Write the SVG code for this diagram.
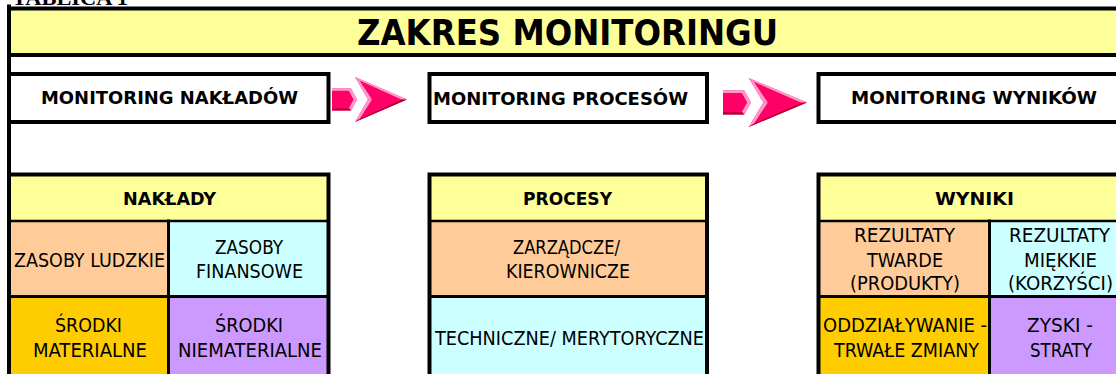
<svg xmlns="http://www.w3.org/2000/svg" width="1116" height="374" viewBox="0 0 1116 374">
<style>
.t{font-family:"DejaVu Sans Condensed","DejaVu Sans",sans-serif;font-stretch:condensed;fill:#000;text-anchor:middle}
.b{font-weight:bold;font-size:17.5px}
.r{font-size:19.5px}
.ln{stroke:#000;fill:none;stroke-linecap:square}
.th{stroke-width:4}
.md{stroke-width:3}
.tn{stroke-width:2.5}
.yel{fill:#FFFF99}.pch{fill:#FFCC99}.cyn{fill:#CCFFFF}.gld{fill:#FFCC00}.lav{fill:#CC99FF}
.ap{fill:#FF0066}.al{fill:#FF99CC}.ad{fill:#B00030}
</style>
<defs>
<g id="arrow">
<polygon class="ap" points="0,-11 19,-11 25,0 19,11 0,11"/>
<polygon class="al" points="0,-11 19,-11 17.5,-8.8 0,-8.8"/>
<polygon class="al" points="19,-11 25,0 19,11 16.8,8.8 21.6,0 16.8,-8.8"/>
<polygon class="ad" points="0,11 19,11 17.4,9 0,9"/>
<polygon class="ap" points="23,-22.5 75,0 23,22.5 36,0"/>
<polygon class="al" points="23,-22.5 75,0 69,-0.3 27.5,-19"/>
<polygon class="al" points="23,-22.5 27.5,-19 40,0 36,0"/>
<polygon class="al" points="36,0 40,0 27.5,19.5 23,22.5"/>
<polygon class="ad" points="23,22.5 75,0 69,0.6 27.5,19.5"/>
</g>
</defs>
<rect x="0" y="0" width="1116" height="374" fill="#fff"/>
<text x="12" y="5" font-family="'Liberation Serif',serif" font-weight="bold" font-size="22" textLength="116" lengthAdjust="spacingAndGlyphs">TABLICA 1</text>

<g id="title">
<rect x="9" y="8.5" width="1115" height="46.5" class="yel"/>
<line class="ln th" x1="9" y1="8.5" x2="1120" y2="8.5"/>
<line class="ln th" x1="9" y1="55" x2="1120" y2="55"/>
<text class="t" x="567.5" y="45" font-weight="bold" font-size="35" textLength="421" lengthAdjust="spacingAndGlyphs">ZAKRES MONITORINGU</text>
</g>

<g id="monitoring-nakladow">
<path class="ln th" d="M9,74 H328.5 V122 H9"/>
<text class="t b" x="169.5" y="104" textLength="257" lengthAdjust="spacingAndGlyphs">MONITORING NAKŁADÓW</text>
</g>

<g id="monitoring-procesow">
<rect class="ln th" x="429.5" y="74" width="277.5" height="48"/>
<text class="t b" x="560.5" y="104.5" textLength="255" lengthAdjust="spacingAndGlyphs">MONITORING PROCESÓW</text>
</g>

<g id="monitoring-wynikow">
<path class="ln th" d="M1122,74 H818.5 V122 H1122"/>
<text class="t b" x="974" y="104" textLength="246" lengthAdjust="spacingAndGlyphs">MONITORING WYNIKÓW</text>
</g>

<g id="connectors">
<use href="#arrow" transform="translate(332,99.5)"/>
<use href="#arrow" transform="translate(723,102.5) scale(1.12,1.09)"/>
</g>

<g id="naklady">
<rect x="9" y="174.5" width="319.5" height="46.5" class="yel"/>
<rect x="9" y="221" width="159.5" height="75.5" class="pch"/>
<rect x="168.5" y="221" width="160" height="75.5" class="cyn"/>
<rect x="9" y="296.5" width="159.5" height="80" class="gld"/>
<rect x="168.5" y="296.5" width="160" height="80" class="lav"/>
<line class="ln tn" x1="9" y1="221" x2="328.5" y2="221"/>
<line class="ln md" x1="9" y1="296.5" x2="328.5" y2="296.5"/>
<line class="ln md" x1="168.5" y1="221" x2="168.5" y2="376"/>
<path class="ln th" d="M9,174.5 H328.5 V376"/>
<text class="t b" x="169.5" y="205" textLength="93" lengthAdjust="spacingAndGlyphs">NAKŁADY</text>
<text class="t r" x="89.5" y="267" textLength="151" lengthAdjust="spacingAndGlyphs">ZASOBY LUDZKIE</text>
<text class="t r" x="249" y="254" textLength="68" lengthAdjust="spacingAndGlyphs">ZASOBY</text>
<text class="t r" x="249.5" y="278" textLength="107" lengthAdjust="spacingAndGlyphs">FINANSOWE</text>
<text class="t r" x="88.5" y="332" textLength="67" lengthAdjust="spacingAndGlyphs">ŚRODKI</text>
<text class="t r" x="90" y="357" textLength="114" lengthAdjust="spacingAndGlyphs">MATERIALNE</text>
<text class="t r" x="249" y="332" textLength="68" lengthAdjust="spacingAndGlyphs">ŚRODKI</text>
<text class="t r" x="250" y="357" textLength="144" lengthAdjust="spacingAndGlyphs">NIEMATERIALNE</text>
</g>

<g id="procesy">
<rect x="429.5" y="174.5" width="277.5" height="46.5" class="yel"/>
<rect x="429.5" y="221" width="277.5" height="75.5" class="pch"/>
<rect x="429.5" y="296.5" width="277.5" height="80" class="cyn"/>
<line class="ln tn" x1="429.5" y1="221" x2="707" y2="221"/>
<line class="ln md" x1="429.5" y1="296.5" x2="707" y2="296.5"/>
<path class="ln th" d="M429.5,376 V174.5 H707 V376"/>
<text class="t b" x="567.5" y="205" textLength="89" lengthAdjust="spacingAndGlyphs">PROCESY</text>
<text class="t r" x="566.5" y="254" textLength="107" lengthAdjust="spacingAndGlyphs">ZARZĄDCZE/</text>
<text class="t r" x="568" y="278" textLength="124" lengthAdjust="spacingAndGlyphs">KIEROWNICZE</text>
<text class="t r" x="569.5" y="345" textLength="269" lengthAdjust="spacingAndGlyphs">TECHNICZNE/ MERYTORYCZNE</text>
</g>

<g id="wyniki">
<rect x="818.5" y="174.5" width="300" height="46.5" class="yel"/>
<rect x="818.5" y="221" width="171" height="75.5" class="pch"/>
<rect x="989.5" y="221" width="130" height="75.5" class="cyn"/>
<rect x="818.5" y="296.5" width="171" height="80" class="gld"/>
<rect x="989.5" y="296.5" width="130" height="80" class="lav"/>
<line class="ln tn" x1="818.5" y1="221" x2="1120" y2="221"/>
<line class="ln md" x1="818.5" y1="296.5" x2="1120" y2="296.5"/>
<line class="ln md" x1="989.5" y1="221" x2="989.5" y2="376"/>
<path class="ln th" d="M818.5,376 V174.5 H1122"/>
<text class="t b" x="974.5" y="205" textLength="79" lengthAdjust="spacingAndGlyphs">WYNIKI</text>
<text class="t r" x="904.5" y="242" textLength="101" lengthAdjust="spacingAndGlyphs">REZULTATY</text>
<text class="t r" x="905" y="267" textLength="76" lengthAdjust="spacingAndGlyphs">TWARDE</text>
<text class="t r" x="905" y="290" textLength="110" lengthAdjust="spacingAndGlyphs">(PRODUKTY)</text>
<text class="t r" x="1059.5" y="242" textLength="101" lengthAdjust="spacingAndGlyphs">REZULTATY</text>
<text class="t r" x="1060.5" y="267" textLength="73" lengthAdjust="spacingAndGlyphs">MIĘKKIE</text>
<text class="t r" x="1060.5" y="290" textLength="105" lengthAdjust="spacingAndGlyphs">(KORZYŚCI)</text>
<text class="t r" x="905" y="332" textLength="164" lengthAdjust="spacingAndGlyphs">ODDZIAŁYWANIE -</text>
<text class="t r" x="906.5" y="357" textLength="145" lengthAdjust="spacingAndGlyphs">TRWAŁE ZMIANY</text>
<text class="t r" x="1060" y="332" textLength="66" lengthAdjust="spacingAndGlyphs">ZYSKI -</text>
<text class="t r" x="1061" y="357" textLength="62" lengthAdjust="spacingAndGlyphs">STRATY</text>
</g>

<line class="ln th" x1="9" y1="6.5" x2="9" y2="376"/>
</svg>
